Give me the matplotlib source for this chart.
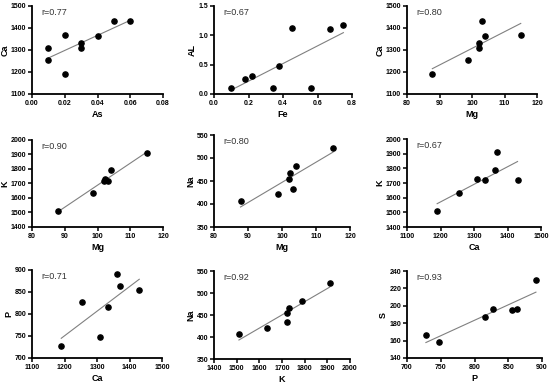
import numpy as np
import matplotlib.pyplot as plt

plt.rcParams['font.family'] = ['Liberation Sans', 'DejaVu Sans']

# panel data: (x label, y label, r text, x values, y values)
as_x = [0.01, 0.01, 0.02, 0.02, 0.03, 0.03, 0.04, 0.05, 0.06]
ca_as = [1310, 1255, 1370, 1190, 1333, 1310, 1362, 1430, 1430]

fe_x = [0.10, 0.18, 0.22, 0.34, 0.375, 0.45, 0.56, 0.67, 0.75]
al_fe = [0.10, 0.26, 0.30, 0.10, 0.48, 1.12, 0.10, 1.10, 1.18]

mg_x = [87.8, 98.7, 102.0, 102.3, 103.2, 104.0, 115.0]
ca_mg = [1190, 1255, 1333, 1310, 1430, 1362, 1370]
k_mg = [1510, 1635, 1720, 1730, 1720, 1790, 1910]
na_mg = [407, 421, 454, 467, 433, 482, 522]

ca_x = [1190, 1255, 1310, 1333, 1362, 1370, 1430]
k_ca = [1510, 1635, 1730, 1720, 1790, 1910, 1720]
p_ca = [728, 828, 748, 815, 891, 863, 855]

k_x = [1510, 1635, 1720, 1720, 1730, 1790, 1910]
na_k = [407, 421, 454, 433, 467, 482, 522]

p_x = [728, 748, 815, 828, 855, 863, 891]
s_p = [167, 158, 187, 196, 195, 196, 230]

panels = [
    ('As', 'Ca', 'r=0.77', as_x, ca_as, (0, 0.08, 0.02), (1100, 1500, 100), '%.2f', '%d'),
    ('Fe', 'AL', 'r=0.67', fe_x, al_fe, (0, 0.8, 0.2), (0, 1.5, 0.5), '%.1f', '%.1f'),
    ('Mg', 'Ca', 'r=0.80', mg_x, ca_mg, (80, 120, 10), (1100, 1500, 100), '%d', '%d'),
    ('Mg', 'K', 'r=0.90', mg_x, k_mg, (80, 120, 10), (1400, 2000, 100), '%d', '%d'),
    ('Mg', 'Na', 'r=0.80', mg_x, na_mg, (80, 120, 10), (350, 550, 50), '%d', '%d'),
    ('Ca', 'K', 'r=0.67', ca_x, k_ca, (1100, 1500, 100), (1400, 2000, 100), '%d', '%d'),
    ('Ca', 'P', 'r=0.71', ca_x, p_ca, (1100, 1500, 100), (700, 900, 50), '%d', '%d'),
    ('K', 'Na', 'r=0.92', k_x, na_k, (1400, 2000, 100), (350, 550, 50), '%d', '%d'),
    ('P', 'S', 'r=0.93', p_x, s_p, (700, 900, 50), (140, 240, 20), '%d', '%d'),
]

# axes boxes in pixels: left, top, right, bottom
boxes = [
    (32, 6, 163, 94), (214, 6, 352, 94), (407, 6, 537, 94),
    (32, 140, 163, 227), (214, 135, 350, 227), (407, 139, 541, 227),
    (32, 270, 162, 358), (214, 271, 350, 359), (407, 271, 542, 358),
]

W, H = 550, 384
fig = plt.figure(figsize=(W / 100, H / 100), dpi=100)

for (xl, yl, rt, xs, ys, xr, yr, xf, yf), (l, t, r, b) in zip(panels, boxes):
    ax = fig.add_axes([l / W, 1 - b / H, (r - l) / W, (b - t) / H])
    xs = np.array(xs)
    ys = np.array(ys)
    slope, icpt = np.polyfit(xs, ys, 1)
    lx = np.array([xs.min(), xs.max()])
    ax.plot(lx, slope * lx + icpt, color='#808080', lw=0.8, zorder=2)
    ax.scatter(xs, ys, s=14, color='black', zorder=3)
    ax.set_xlim(xr[0], xr[1])
    ax.set_ylim(yr[0], yr[1])
    ax.set_xticks(np.arange(xr[0], xr[1] + xr[2] / 2, xr[2]))
    ax.set_yticks(np.arange(yr[0], yr[1] + yr[2] / 2, yr[2]))
    ax.xaxis.set_major_formatter(plt.FormatStrFormatter(xf))
    ax.yaxis.set_major_formatter(plt.FormatStrFormatter(yf))
    for s in ['top', 'right']:
        ax.spines[s].set_visible(False)
    for s in ['left', 'bottom']:
        ax.spines[s].set_linewidth(1.3)
    ax.tick_params(length=3, width=1.1, labelsize=5, pad=1.2)
    for lab in ax.get_xticklabels() + ax.get_yticklabels():
        lab.set_fontweight('bold')
    ax.set_xlabel(xl, fontsize=6.5, fontweight='bold', labelpad=2)
    ax.set_ylabel(yl, fontsize=6.5, fontweight='bold', labelpad=1)
    ax.text(0.07, 0.93, rt, transform=ax.transAxes, fontsize=6.5,
            color='#333333', va='center')

fig.savefig('out.png', dpi=100)
